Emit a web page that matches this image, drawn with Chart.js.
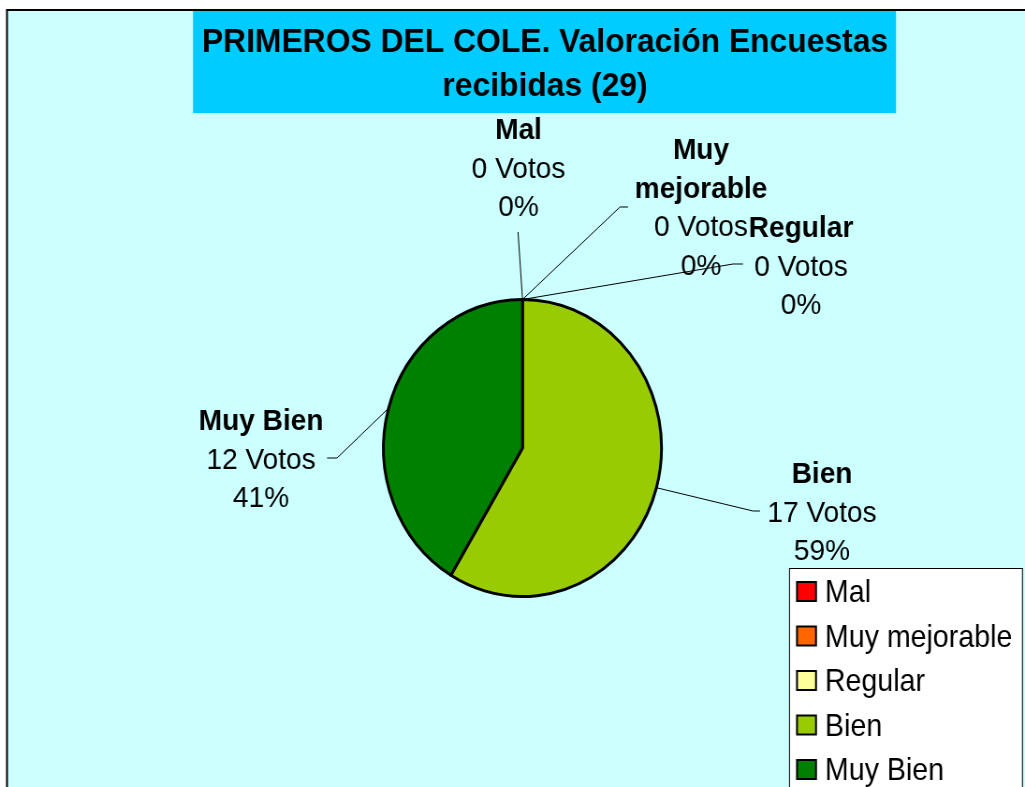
<!DOCTYPE html>
<html><head><meta charset="utf-8">
<script src="https://cdn.jsdelivr.net/npm/chart.js@4/dist/chart.umd.min.js"></script>
<style>
html,body{margin:0;padding:0;background:#fff;overflow:hidden;width:1025px;height:787px;}
#c{position:absolute;left:0;top:0;transform:scaleX(0.93607);transform-origin:0 0;}
</style></head><body>
<canvas id="c" width="1095" height="787"></canvas>
<script>
// ---- data ----
const categories = ['Mal', 'Muy mejorable', 'Regular', 'Bien', 'Muy Bien'];
const votes = [0, 0, 0, 17, 12];
const sliceColors = ['#FF0000', '#FF6600', '#FFFF99', '#99CC00', '#008000'];
const labelNameLines = [['Mal'], ['Muy', 'mejorable'], ['Regular'], ['Bien'], ['Muy Bien']];
const titleLines = ['PRIMEROS DEL COLE. Valoración Encuestas', 'recibidas (29)'];
const votesWord = 'Votos';

// ---- layout (reference pixel coords; x is divided by S for the stretched canvas) ----
const S = 0.93607;
const W = 1095, H = 787;
const vx = x => x / S;
const FONT = '"Liberation Sans", Arial, Helvetica, sans-serif';
const labelLayout = [
  {cx: 518.5, y: 139, path: [[518, 232]]},
  {cx: 701, y: 159, path: [[620, 207], [628, 207]]},
  {cx: 801, y: 237, path: [[733, 264], [743, 264]]},
  {cx: 822, y: 483, path: [[753, 511], [760, 511]]},
  {cx: 261, y: 430, path: [[337, 458], [327, 458]]}
];
const lineH = 38.5;
const legendBox = {left: 789, top: 568, right: 1022, y0: 602, step: 44.5, boxX: 797, box: 19, textX: 825};
const pieCenter = {x: 522.5, y: 448}, pieArea = 300;

const total = votes.reduce((a, b) => a + b, 0);

const decor = {
  id: 'decor',
  beforeDraw(chart) {
    const ctx = chart.ctx;
    ctx.save();
    ctx.fillStyle = '#ffffff';
    ctx.fillRect(0, 0, W, H);
    ctx.fillStyle = '#CCFFFF';
    ctx.fillRect(vx(7), 10, W, H);
    // border
    ctx.strokeStyle = '#000';
    ctx.lineWidth = 2;
    ctx.beginPath();
    ctx.moveTo(vx(6), 10); ctx.lineTo(W + 5, 10);
    ctx.moveTo(vx(7), 9); ctx.lineTo(vx(7), H + 5);
    ctx.stroke();
    // title box
    ctx.fillStyle = '#00CCFF';
    ctx.fillRect(vx(193), 11, vx(896) - vx(193), 102);
    ctx.fillStyle = '#000';
    ctx.font = 'bold 34px ' + FONT;
    ctx.textAlign = 'center';
    ctx.textBaseline = 'alphabetic';
    ctx.fillText(titleLines[0], vx(545), 52);
    ctx.fillText(titleLines[1], vx(545), 96);
    ctx.restore();
  },
  afterDraw(chart) {
    const ctx = chart.ctx;
    const meta = chart.getDatasetMeta(0);
    ctx.save();
    // leader lines
    ctx.strokeStyle = '#000';
    ctx.lineWidth = 1;
    meta.data.forEach((el, i) => {
      const p = el.getProps(['x', 'y', 'startAngle', 'endAngle', 'outerRadius'], true);
      const a = (p.endAngle - p.startAngle) < 1e-6 ? p.startAngle : (p.startAngle + p.endAngle) / 2;
      const ax = p.x + Math.cos(a) * p.outerRadius;
      const ay = p.y + Math.sin(a) * p.outerRadius;
      ctx.beginPath();
      ctx.moveTo(ax, ay);
      labelLayout[i].path.forEach(pt => ctx.lineTo(vx(pt[0]), pt[1]));
      ctx.stroke();
    });
    // label texts
    ctx.fillStyle = '#000';
    ctx.textAlign = 'center';
    ctx.textBaseline = 'alphabetic';
    categories.forEach((c, i) => {
      const L = labelLayout[i];
      let y = L.y;
      ctx.font = 'bold 30px ' + FONT;
      labelNameLines[i].forEach(t => { ctx.fillText(t, vx(L.cx), y); y += lineH; });
      ctx.font = '30px ' + FONT;
      ctx.fillText(votes[i] + ' ' + votesWord, vx(L.cx), y); y += lineH;
      ctx.fillText(Math.round(votes[i] / total * 100) + '%', vx(L.cx), y);
    });
    // legend
    const g = legendBox;
    ctx.fillStyle = '#fff';
    ctx.fillRect(vx(g.left), g.top, vx(g.right) - vx(g.left), H);
    ctx.strokeStyle = '#000';
    ctx.lineWidth = 1;
    ctx.strokeRect(vx(g.left) + 0.5, g.top + 0.5, vx(g.right) - vx(g.left), H);
    ctx.textAlign = 'left';
    ctx.font = '30.5px ' + FONT;
    categories.forEach((c, i) => {
      const by = g.y0 + i * g.step;
      ctx.fillStyle = sliceColors[i];
      ctx.fillRect(vx(g.boxX), by - 20, g.box / S, g.box);
      ctx.lineWidth = 2;
      ctx.strokeStyle = '#000';
      ctx.strokeRect(vx(g.boxX), by - 20, g.box / S, g.box);
      ctx.fillStyle = '#000';
      ctx.fillText(c, vx(g.textX), by);
    });
    ctx.restore();
  }
};

const cx = vx(pieCenter.x);
new Chart(document.getElementById('c'), {
  type: 'pie',
  data: {
    labels: categories,
    datasets: [{
      data: votes,
      backgroundColor: sliceColors,
      borderColor: '#000',
      borderWidth: 3
    }]
  },
  options: {
    responsive: false,
    devicePixelRatio: 1,
    animation: false,
    events: [],
    layout: {padding: {
      left: cx - pieArea / 2,
      right: W - (cx + pieArea / 2),
      top: pieCenter.y - pieArea / 2,
      bottom: H - (pieCenter.y + pieArea / 2)
    }},
    plugins: {legend: {display: false}, title: {display: false}, tooltip: {enabled: false}}
  },
  plugins: [decor]
});
</script>
</body></html>
